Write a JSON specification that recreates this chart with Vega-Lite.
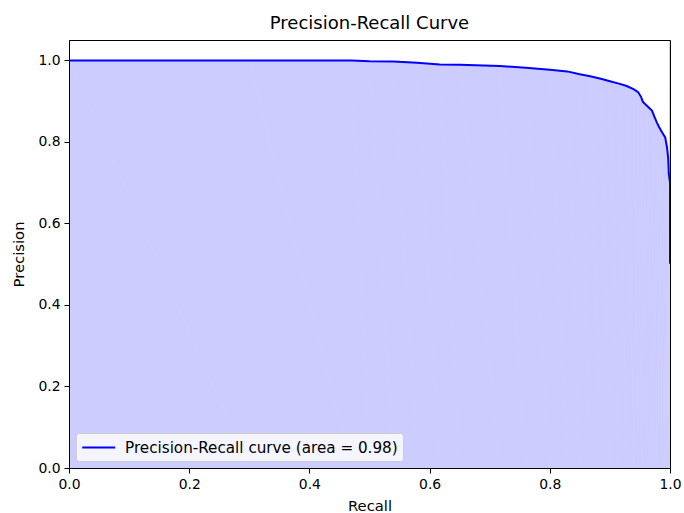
{
  "$schema": "https://vega.github.io/schema/vega-lite/v6.json",
  "width": 601,
  "height": 428,
  "autosize": {"type": "none"},
  "padding": {"left": 69, "top": 40, "right": 14, "bottom": 45},
  "background": "white",
  "title": {"text": "Precision-Recall Curve", "font": "DejaVu Sans", "fontSize": 18, "fontWeight": "normal", "color": "black", "offset": 7},
  "data": {"values": [
    {"i": 0, "recall": 0.000, "precision": 1.000},
    {"i": 1, "recall": 0.300, "precision": 1.000},
    {"i": 2, "recall": 0.470, "precision": 1.000},
    {"i": 3, "recall": 0.500, "precision": 0.998},
    {"i": 4, "recall": 0.540, "precision": 0.997},
    {"i": 5, "recall": 0.579, "precision": 0.994},
    {"i": 6, "recall": 0.617, "precision": 0.990},
    {"i": 7, "recall": 0.650, "precision": 0.989},
    {"i": 8, "recall": 0.717, "precision": 0.986},
    {"i": 9, "recall": 0.760, "precision": 0.982},
    {"i": 10, "recall": 0.800, "precision": 0.977},
    {"i": 11, "recall": 0.829, "precision": 0.973},
    {"i": 12, "recall": 0.850, "precision": 0.966},
    {"i": 13, "recall": 0.867, "precision": 0.961},
    {"i": 14, "recall": 0.885, "precision": 0.955},
    {"i": 15, "recall": 0.900, "precision": 0.949},
    {"i": 16, "recall": 0.915, "precision": 0.943},
    {"i": 17, "recall": 0.928, "precision": 0.937},
    {"i": 18, "recall": 0.940, "precision": 0.929},
    {"i": 19, "recall": 0.947, "precision": 0.922},
    {"i": 20, "recall": 0.952, "precision": 0.910},
    {"i": 21, "recall": 0.955, "precision": 0.898},
    {"i": 22, "recall": 0.962, "precision": 0.888},
    {"i": 23, "recall": 0.970, "precision": 0.877},
    {"i": 24, "recall": 0.974, "precision": 0.862},
    {"i": 25, "recall": 0.978, "precision": 0.848},
    {"i": 26, "recall": 0.982, "precision": 0.836},
    {"i": 27, "recall": 0.987, "precision": 0.823},
    {"i": 28, "recall": 0.992, "precision": 0.811},
    {"i": 29, "recall": 0.995, "precision": 0.787},
    {"i": 30, "recall": 0.997, "precision": 0.760},
    {"i": 31, "recall": 0.998, "precision": 0.722},
    {"i": 32, "recall": 1.000, "precision": 0.700},
    {"i": 33, "recall": 1.000, "precision": 0.600},
    {"i": 34, "recall": 1.000, "precision": 0.501}
  ]},
  "encoding": {
    "x": {"field": "recall", "type": "quantitative", "scale": {"domain": [0, 1], "nice": false, "zero": false},
      "axis": {"title": "Recall", "values": [0, 0.2, 0.4, 0.6, 0.8, 1.0], "format": ".1f"}},
    "y": {"field": "precision", "type": "quantitative", "scale": {"domain": [0, 1.05], "nice": false, "zero": false},
      "axis": {"title": "Precision", "values": [0, 0.2, 0.4, 0.6, 0.8, 1.0], "format": ".1f"}},
    "order": {"field": "i", "type": "quantitative"}
  },
  "layer": [
    {"mark": {"type": "area", "color": "blue", "fillOpacity": 0.2, "clip": true}},
    {"mark": {"type": "line", "strokeWidth": 2, "clip": true},
     "encoding": {"color": {"datum": "Precision-Recall curve (area = 0.98)", "type": "nominal",
       "scale": {"range": ["blue"]},
       "legend": {"title": null, "orient": "bottom-left", "offset": 7, "symbolType": "M-1,0H3", "symbolSize": 272,
         "symbolStrokeWidth": 2, "symbolStrokeColor": "blue", "labelFont": "DejaVu Sans", "labelFontSize": 15.2, "labelColor": "black",
         "labelLimit": 400, "labelOffset": 25, "padding": 5, "fillColor": "rgba(255,255,255,0.8)", "strokeColor": "#cccccc", "cornerRadius": 3}}}}
  ],
  "config": {
    "view": {"stroke": "black", "strokeWidth": 1},
    "axis": {"grid": false, "domainColor": "black", "tickColor": "black", "tickSize": 5, "labelPadding": 4, "labelFlush": false,
      "labelFont": "DejaVu Sans", "labelFontSize": 13.9, "labelColor": "black",
      "titleFont": "DejaVu Sans", "titleFontSize": 14.8, "titleFontWeight": "normal", "titleColor": "black"},
    "axisX": {"titlePadding": 8},
    "axisY": {"titlePadding": 11}
  }
}
